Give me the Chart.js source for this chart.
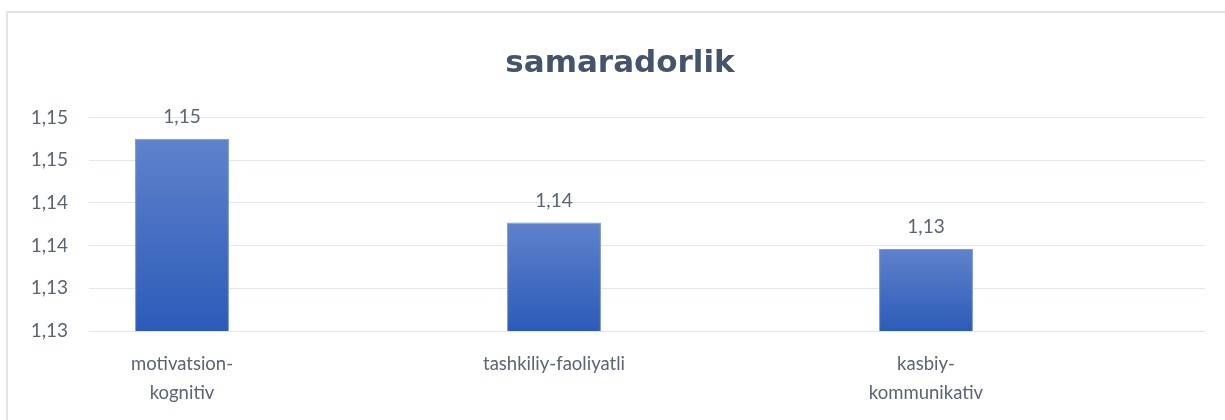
<!DOCTYPE html>
<html>
<head>
<meta charset="utf-8">
<script src="https://cdn.jsdelivr.net/npm/chart.js@4.4.1/dist/chart.umd.min.js"></script>
<style>
  html, body { margin: 0; padding: 0; background: #fff; }
  #wrap { position: relative; width: 1225px; height: 420px; overflow: hidden; }
  #frame { position: absolute; left: 6px; top: 11px; width: 1240px; height: 440px; border: 2px solid #e1e5eb; box-sizing: border-box; }
  #chart { position: absolute; left: 0; top: 0; }
</style>
</head>
<body>
<div id="wrap">
  <div id="frame"></div>
  <canvas id="chart" width="1225" height="420"></canvas>
</div>
<script>
// --- Data ---
// every other category is empty in the source chart, which is why the bars sit off-centre
const categories = [["motivatsion-", "kognitiv"], "", "tashkiliy-faoliyatli", "", ["kasbiy-", "kommunikativ"], ""];
const values = [1.1475, null, 1.1377, null, 1.1346, null];
const tickValues = [1.125, 1.130, 1.135, 1.140, 1.145, 1.150];
const tickLabels = ["1,13", "1,13", "1,14", "1,14", "1,15", "1,15"];
const chartTitle = "samaradorlik";

const textColor = "#5b6474";
const fontFamily = "Lato, 'Open Sans', sans-serif";

// Gradient per bar, light at the top, darker at the bottom
function barGradient(ctx) {
    const chart = ctx.chart;
    const y = chart.scales.y;
    if (!chart.chartArea || !y || ctx.raw == null) return "#4472c4";
    const top = y.getPixelForValue(ctx.raw);
    const bottom = y.getPixelForValue(y.min);
    const g = chart.ctx.createLinearGradient(0, top, 0, bottom);
    g.addColorStop(0, "#5f82cc");
    g.addColorStop(1, "#2c5bb8");
    return g;
}

// Title and value labels
const extraText = {
    id: "extraText",
    afterDatasetsDraw(chart) {
        const ctx = chart.ctx;
        ctx.save();
        ctx.fillStyle = "#44546a";
        ctx.font = "bold 31px 'DejaVu Sans', sans-serif";
        ctx.textAlign = "center";
        ctx.textBaseline = "alphabetic";
        ctx.fillText(chartTitle, 620, 72);

        ctx.font = "19px " + fontFamily;
        ctx.fillStyle = textColor;
        chart.getDatasetMeta(0).data.forEach((bar, i) => {
            const v = values[i];
            if (v == null) return;
            ctx.fillText(v.toFixed(2).replace(".", ","), bar.x, bar.y - 16);
        });
        ctx.restore();
    }
};

new Chart(document.getElementById("chart").getContext("2d"), {
    type: "bar",
    data: {
        labels: categories,
        datasets: [{
            data: values,
            backgroundColor: barGradient,
            borderColor: "#7b98d6",
            borderWidth: 1,
            barPercentage: 1,
            categoryPercentage: 0.505
        }]
    },
    options: {
        responsive: false,
        animation: false,
        layout: { padding: { left: 0, right: 20, top: 117.5, bottom: 0 } },
        plugins: {
            legend: { display: false },
            tooltip: { enabled: false },
            title: { display: false }
        },
        scales: {
            x: {
                grid: { display: false },
                border: { display: false },
                ticks: {
                    color: textColor,
                    font: { family: fontFamily, size: 18.5, lineHeight: 1.55 },
                    padding: 11,
                    maxRotation: 0,
                    autoSkip: false
                },
                afterFit: s => { s.height = 89; }
            },
            y: {
                min: 1.125,
                max: 1.150,
                afterBuildTicks: s => { s.ticks = tickValues.map(v => ({ value: v })); },
                grid: { color: "#e3e7ed", lineWidth: 1, drawTicks: false },
                border: { display: false },
                ticks: {
                    color: textColor,
                    font: { family: fontFamily, size: 19 },
                    padding: 21,
                    callback: (v, i) => tickLabels[i]
                },
                afterFit: s => { s.width = 89; }
            }
        }
    },
    plugins: [extraText]
});
</script>
</body>
</html>
